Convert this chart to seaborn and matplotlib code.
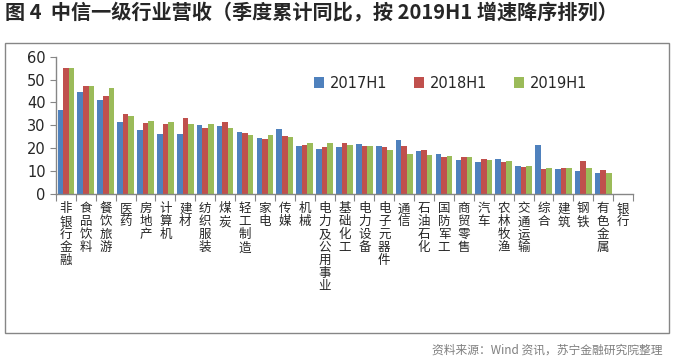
import numpy as np
import pandas as pd
import seaborn as sns
import matplotlib.pyplot as plt
from matplotlib.patches import Rectangle

categories = ["非银行金融", "食品饮料", "餐饮旅游", "医药", "房地产", "计算机", "建材",
              "纺织服装", "煤炭", "轻工制造", "家电", "传媒", "机械", "电力及公用事业",
              "基础化工", "电力设备", "电子元器件", "通信", "石油石化", "国防军工",
              "商贸零售", "汽车", "农林牧渔", "交通运输", "综合", "建筑", "钢铁",
              "有色金属", "银行"]
h2017 = [36.7, 44.5, 41.0, 31.4, 28.0, 26.2, 26.2, 30.1, 29.7, 27.1, 24.5, 28.4, 21.0, 19.7,
         20.5, 21.8, 21.0, 23.6, 18.8, 17.5, 14.8, 14.0, 15.3, 12.2, 21.4, 10.9, 10.0, 9.2, np.nan]
h2018 = [55.0, 47.2, 42.8, 34.9, 31.0, 30.6, 33.2, 28.8, 31.4, 26.6, 24.0, 25.3, 21.4, 20.5,
         22.3, 21.0, 20.5, 21.0, 19.2, 16.2, 16.2, 15.3, 14.0, 11.8, 10.9, 11.4, 14.4, 10.5, np.nan]
h2019 = [55.0, 47.2, 46.3, 34.0, 31.9, 31.4, 30.6, 30.6, 28.8, 25.8, 25.8, 24.9, 22.3, 22.3,
         21.4, 21.0, 19.2, 17.5, 17.0, 16.6, 16.2, 14.8, 14.4, 12.2, 11.4, 11.4, 11.4, 9.2, np.nan]
series = ["2017H1", "2018H1", "2019H1"]
colors = ["#4F81BD", "#C0504D", "#9BBB59"]

df = pd.DataFrame({
    "行业": categories * 3,
    "期间": [s for s in series for _ in categories],
    "值": h2017 + h2018 + h2019,
})

sns.set_style("white")
plt.rcParams["font.family"] = ["Noto Sans CJK SC", "DejaVu Sans"]

fig = plt.figure(figsize=(6.75, 3.62), dpi=100)
ax = fig.add_axes([56 / 675, 1 - 194 / 362, (633 - 56) / 675, (194 - 56.7) / 362])

sns.barplot(data=df, x="行业", y="值", hue="期间", order=categories, hue_order=series,
            palette=colors, width=0.84, ax=ax, errorbar=None, saturation=1, linewidth=0)

ax.set_ylim(0, 60)
ax.set_xlim(-0.5, len(categories) - 0.5)
ax.set_yticks(range(0, 61, 10))
ax.set_xlabel("")
ax.set_ylabel("")
for s in ["top", "right"]:
    ax.spines[s].set_visible(False)
for s in ["left", "bottom"]:
    ax.spines[s].set_color("#868686")
    ax.spines[s].set_linewidth(1)

# category labels at centres, tick marks at boundaries
ax.set_xticks(np.arange(-0.5, len(categories)), labels=[])
ax.set_xticks(np.arange(len(categories)), labels=["\n".join(c) for c in categories], minor=True)
ax.tick_params(axis="x", which="major", length=5, color="#868686", direction="out", bottom=True)
ax.tick_params(axis="x", which="minor", length=0, labelsize=9, pad=6)
for lbl in ax.get_xticklabels(minor=True):
    lbl.set_verticalalignment("top")
    lbl.set_linespacing(1.0)
ax.tick_params(axis="y", length=4, color="#868686", direction="out", left=True, labelsize=10.5)
for lbl in ax.get_yticklabels():
    lbl.set_family("DejaVu Sans")

handles, labels = ax.get_legend_handles_labels()
ax.legend(handles, labels, ncol=3, frameon=False, loc="center left",
          bbox_to_anchor=(301 / 675, 1 - 83 / 362), bbox_transform=fig.transFigure,
          handlelength=0.7, handleheight=0.7, handletextpad=0.4, columnspacing=1.8,
          prop={"family": "DejaVu Sans", "size": 10.5})

fig.patches.append(Rectangle((5 / 675, 1 - 333 / 362), 664 / 675, 290 / 362,
                             transform=fig.transFigure, fill=False,
                             edgecolor="#868686", linewidth=1))

fig.text(5 / 675, 1 - 13 / 362, "图 4  中信一级行业营收（季度累计同比，按 2019H1 增速降序排列）",
         fontsize=14.5, fontweight="bold", va="center", ha="left")
fig.text(663 / 675, 1 - 350 / 362, "资料来源：Wind 资讯，苏宁金融研究院整理",
         fontsize=8.5, style="italic", color="#7F7F7F", va="center", ha="right")

fig.savefig("out.png", dpi=100)
